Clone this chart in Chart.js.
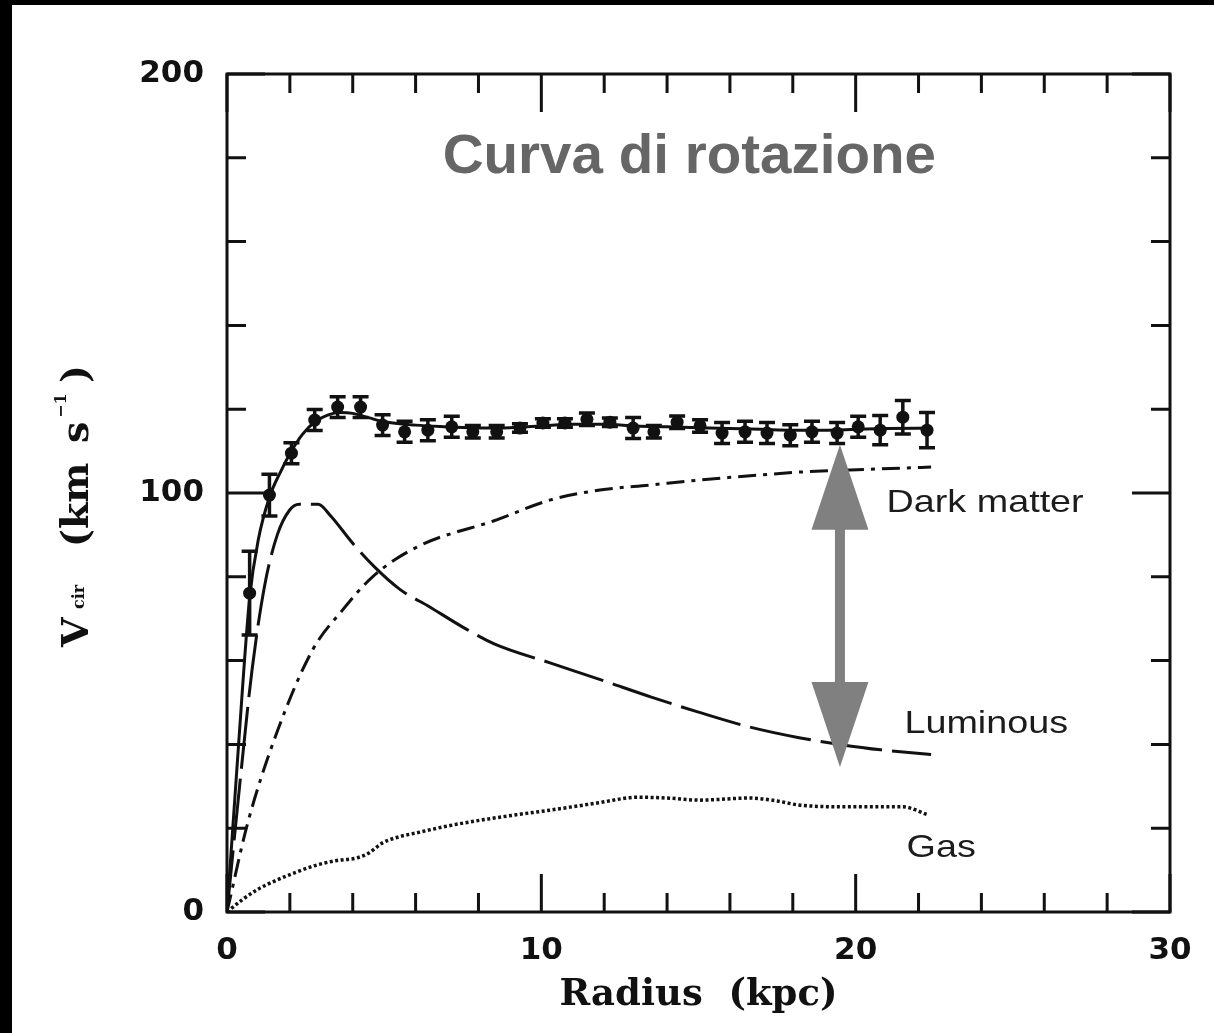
<!DOCTYPE html>
<html>
<head>
<meta charset="utf-8">
<title>Curva di rotazione</title>
<script src="https://cdn.jsdelivr.net/npm/chart.js@4.4.1/dist/chart.umd.min.js"></script>
<style>
  html, body { margin: 0; padding: 0; background: #fff; }
  canvas { display: block; }
</style>
</head>
<body>
<canvas id="rot" width="1214" height="1033"></canvas>
<script>
// Measured rotation speed: radius (kpc), circular velocity and uncertainty (km/s)
const radius = [0.72, 1.35, 2.05, 2.79, 3.52, 4.25, 4.95, 5.65, 6.39, 7.15, 7.82, 8.58, 9.32, 10.05, 10.75, 11.45,
                12.18, 12.92, 13.58, 14.32, 15.05, 15.75, 16.48, 17.18, 17.92, 18.61, 19.41, 20.08, 20.78, 21.5, 22.27];
const vObs   = [76.1, 99.5, 109.5, 117.4, 120.5, 120.5, 116.2, 114.6, 115.0, 115.8, 114.6, 114.6, 115.5, 116.7, 116.7, 117.6,
                116.9, 115.5, 114.6, 116.9, 116.0, 114.3, 114.6, 114.3, 113.8, 114.6, 114.3, 115.8, 115.0, 118.1, 115.0];
const vErr   = [10, 5, 2.5, 2.5, 2.5, 2.5, 2.5, 2.5, 2.5, 2.5, 1.5, 1.5, 1, 1, 1, 1.5,
                1, 2.5, 1.5, 1.5, 1.5, 2.5, 2.5, 2.5, 2.5, 2.5, 2.5, 2.5, 3.5, 4, 4.2];

// Total model fit
const fitR = [0, 0.35, 0.72, 1.0, 1.35, 1.7, 2.05, 2.4, 2.8, 3.2, 3.6, 4.0, 4.5, 5.0, 6.0, 7.0, 8.0, 9.0, 10.0,
              11.0, 12.0, 13.0, 14.0, 15.0, 16.0, 17.0, 18.0, 19.0, 20.0, 21.0, 22.4];
const fitV = [0, 38, 75, 89, 99, 105, 110, 114, 117, 118.6, 119.2, 119, 118, 117, 116.2, 115.8, 115.5, 115.6, 116,
              116.4, 116.4, 116, 115.8, 115.6, 115.4, 115.2, 115, 115, 115.2, 115.4, 115.5];

// Luminous (stellar) component
const lumR = [0, 0.4, 0.8, 1.2, 1.6, 2.0, 2.3, 2.9, 3.3, 4.0, 4.7, 5.5, 6.45, 7.5, 8.5, 10.3, 11.9, 13.5, 15.0,
              16.6, 18.2, 19.5, 20.8, 22.4];
const lumV = [0, 30, 58, 78, 90, 96, 97.3, 97.3, 94.5, 88, 82.3, 77, 72.8, 68, 64, 59.4, 55.4, 51.3, 47.7,
              44.2, 41.6, 40, 38.7, 37.6];

// Dark matter halo
const darkR = [0, 0.65, 1.58, 2.72, 3.68, 4.63, 6.04, 8.58, 10.27, 11.86, 13.46, 15.05, 16.64, 18.23, 19.82, 22.4];
const darkV = [0, 21, 42.7, 62.5, 72.1, 80, 87.1, 93.6, 98.3, 100.7, 101.9, 103.1, 104.1, 105, 105.5, 106.2];

// Gas component
const gasR = [0, 0.5, 1.0, 1.58, 2.2, 2.85, 3.5, 4.12, 4.5, 4.95, 5.5, 6.04, 7.0, 8.14, 9.2, 10.27, 11.77, 13.1,
              14.0, 15.05, 16.64, 17.5, 18.23, 19.82, 21.5, 22.3];
const gasV = [0, 3, 5.5, 7.6, 9.5, 11.2, 12.3, 12.9, 14, 16.5, 18, 18.9, 20.5, 22, 23.2, 24.3, 26, 27.4,
              27.2, 26.7, 27.2, 26.5, 25.5, 25.1, 25.1, 23.2];

// Tick marks on the frame
const xTickMarks = [0, 2, 4, 6, 8, 10, 12, 14, 16, 18, 20, 22, 24, 26, 28, 30];
const xMajor = [0, 10, 20, 30];
const yTickMarks = [0, 20, 40, 60, 80, 100, 120, 140, 160, 180, 200];
const yMajor = [0, 100, 200];

// Text labels
const chartTitle = 'Curva di rotazione';
const xTitle = 'Radius  (kpc)';
const curveLabels = ['Dark matter', 'Luminous', 'Gas'];

const pts = (xs, ys) => xs.map((v, i) => ({ x: v, y: ys[i] }));
const INK = '#111';

const decor = {
  id: 'decor',
  beforeDraw(chart) {
    const { ctx, width, height } = chart;
    ctx.save();
    ctx.fillStyle = '#fff';
    ctx.fillRect(0, 0, width, height);
    ctx.fillStyle = '#000';
    ctx.fillRect(0, 0, width, 5);
    ctx.fillRect(0, 0, 12, height);
    ctx.restore();
  },
  beforeDatasetsDraw(chart) {
    // error bars of the measured points
    const { ctx, scales: { x, y } } = chart;
    ctx.save();
    ctx.strokeStyle = INK;
    ctx.lineWidth = 3.5;
    radius.forEach((r, i) => {
      const px = x.getPixelForValue(r);
      const t = y.getPixelForValue(vObs[i] + vErr[i]);
      const b = y.getPixelForValue(vObs[i] - vErr[i]);
      ctx.beginPath();
      ctx.moveTo(px, t); ctx.lineTo(px, b);
      ctx.moveTo(px - 8, t); ctx.lineTo(px + 8, t);
      ctx.moveTo(px - 8, b); ctx.lineTo(px + 8, b);
      ctx.stroke();
    });
    ctx.restore();
  },
  afterDraw(chart) {
    const { ctx, chartArea: a, scales: { x, y } } = chart;
    ctx.save();

    // frame
    ctx.strokeStyle = INK;
    ctx.lineWidth = 3;
    ctx.strokeRect(a.left, a.top, a.right - a.left, a.bottom - a.top);

    // inward ticks on all four sides
    ctx.beginPath();
    xTickMarks.forEach(v => {
      const px = x.getPixelForValue(v);
      const len = xMajor.includes(v) ? 38 : 19;
      ctx.moveTo(px, a.bottom); ctx.lineTo(px, a.bottom - len);
      ctx.moveTo(px, a.top); ctx.lineTo(px, a.top + len);
    });
    yTickMarks.forEach(v => {
      const py = y.getPixelForValue(v);
      const len = yMajor.includes(v) ? 38 : 19;
      ctx.moveTo(a.left, py); ctx.lineTo(a.left + len, py);
      ctx.moveTo(a.right, py); ctx.lineTo(a.right - len, py);
    });
    ctx.stroke();

    // double arrow between total curve and luminous component
    const ax = x.getPixelForValue(19.5);
    const aTop = y.getPixelForValue(111.5);
    const aBot = y.getPixelForValue(34.6);
    const headLen = 85, headHalf = 28.5, shaftHalf = 5;
    ctx.fillStyle = '#808080';
    ctx.beginPath();
    ctx.moveTo(ax, aTop);
    ctx.lineTo(ax + headHalf, aTop + headLen);
    ctx.lineTo(ax + shaftHalf, aTop + headLen);
    ctx.lineTo(ax + shaftHalf, aBot - headLen);
    ctx.lineTo(ax + headHalf, aBot - headLen);
    ctx.lineTo(ax, aBot);
    ctx.lineTo(ax - headHalf, aBot - headLen);
    ctx.lineTo(ax - shaftHalf, aBot - headLen);
    ctx.lineTo(ax - shaftHalf, aTop + headLen);
    ctx.lineTo(ax - headHalf, aTop + headLen);
    ctx.closePath();
    ctx.fill();

    // curve labels
    const stretched = (text, r, v, font, color, sx) => {
      ctx.save();
      ctx.font = font;
      ctx.fillStyle = color;
      ctx.textAlign = 'left';
      ctx.textBaseline = 'alphabetic';
      ctx.translate(x.getPixelForValue(r), y.getPixelForValue(v));
      ctx.scale(sx, 1);
      ctx.fillText(text, 0, 0);
      ctx.restore();
    };
    stretched(curveLabels[0], 20.98, 95.5, '32px "Liberation Sans", Arial, sans-serif', '#1c1c1c', 1.18);
    stretched(curveLabels[1], 21.55, 42.7, '32px "Liberation Sans", Arial, sans-serif', '#1c1c1c', 1.18);
    stretched(curveLabels[2], 21.62, 13.1, '32px "Liberation Sans", Arial, sans-serif', '#1c1c1c', 1.18);

    // chart title
    stretched(chartTitle, 6.86, 176.4, 'bold 56px "Liberation Sans", Arial, sans-serif', '#666666', 1.01);

    // vertical axis title: V_cir (km s^-1)
    ctx.save();
    ctx.translate(88, 647);
    ctx.rotate(-Math.PI / 2);
    ctx.fillStyle = INK;
    ctx.textAlign = 'left';
    ctx.textBaseline = 'alphabetic';
    const big = 'bold 38px "DejaVu Serif", serif';
    const small = 'bold 16px "DejaVu Serif", serif';
    const pieces = [
      ['V', 0, 0, big],
      ['cir', 38, -4, small],
      ['(km', 100, 0, big],
      ['s', 204, 0, big],
      ['\u22121', 229, -22, small],
      [')', 264, 0, big]
    ];
    pieces.forEach(([t, dx, dy, f]) => {
      ctx.font = f;
      ctx.fillText(t, dx, dy);
    });
    ctx.restore();

    ctx.restore();
  }
};

new Chart(document.getElementById('rot'), {
  type: 'scatter',
  data: {
    datasets: [
      {
        label: 'Observed',
        data: pts(radius, vObs),
        showLine: false,
        pointRadius: 6.5,
        pointBackgroundColor: INK,
        pointBorderWidth: 0
      },
      {
        label: 'Total',
        data: pts(fitR, fitV),
        showLine: true,
        borderColor: INK,
        borderWidth: 3,
        pointRadius: 0,
        cubicInterpolationMode: 'monotone'
      },
      {
        label: curveLabels[0],
        data: pts(darkR, darkV),
        showLine: true,
        borderColor: INK,
        borderWidth: 3,
        borderDash: [18, 7, 4, 7],
        pointRadius: 0,
        cubicInterpolationMode: 'monotone'
      },
      {
        label: curveLabels[1],
        data: pts(lumR, lumV),
        showLine: true,
        borderColor: INK,
        borderWidth: 3,
        borderDash: [62, 10],
        pointRadius: 0,
        cubicInterpolationMode: 'monotone'
      },
      {
        label: curveLabels[2],
        data: pts(gasR, gasV),
        showLine: true,
        borderColor: INK,
        borderWidth: 3.5,
        borderDash: [3, 2.5],
        pointRadius: 0,
        cubicInterpolationMode: 'monotone'
      }
    ]
  },
  options: {
    responsive: false,
    animation: false,
    devicePixelRatio: 1,
    layout: { padding: { left: 0, right: 44, top: 74, bottom: 0 } },
    plugins: { legend: { display: false }, tooltip: { enabled: false } },
    scales: {
      x: {
        type: 'linear',
        min: 0,
        max: 30,
        afterFit(s) { s.height = 121; },
        grid: { display: false, drawTicks: false },
        border: { display: false },
        ticks: {
          stepSize: 10,
          padding: 20,
          maxRotation: 0,
          autoSkip: false,
          color: INK,
          font: { family: '"DejaVu Sans", sans-serif', size: 31, weight: 'bold' }
        },
        title: {
          display: true,
          text: xTitle,
          color: INK,
          padding: { top: 0, bottom: 15 },
          font: { family: '"DejaVu Serif", serif', size: 37, weight: 'bold' }
        }
      },
      y: {
        type: 'linear',
        min: 0,
        max: 200,
        afterFit(s) { s.width = 227; },
        grid: { display: false, drawTicks: false },
        border: { display: false },
        ticks: {
          stepSize: 100,
          padding: 23,
          color: INK,
          font: { family: '"DejaVu Sans", sans-serif', size: 31, weight: 'bold' }
        }
      }
    }
  },
  plugins: [decor]
});
</script>
</body>
</html>
